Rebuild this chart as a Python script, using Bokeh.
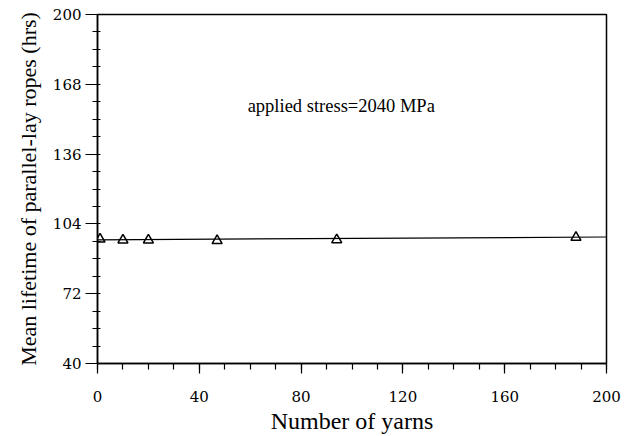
from bokeh.plotting import figure
from bokeh.models import FixedTicker, Range1d, Label
from bokeh.embed import file_html
from bokeh.resources import INLINE

# Mean lifetime of parallel-lay ropes against the number of yarns
yarns = [1, 10, 20, 47, 94, 188]
lifetime_hrs = [97.0, 96.6, 96.6, 96.3, 96.7, 97.8]

# straight-line fit drawn across the full x range
fit_yarns = [0, 200]
fit_lifetime = [96.7, 98.0]

x_ticks = [0, 40, 80, 120, 160, 200]
y_ticks = [40, 72, 104, 136, 168, 200]

p = figure(
    width=624, height=436,
    x_range=Range1d(0, 200), y_range=Range1d(40, 200),
    output_backend="svg", toolbar_location=None,
    min_border_left=97, min_border_right=18,
    min_border_top=14, min_border_bottom=73,
)
p.background_fill_color = "white"
p.border_fill_color = "white"
p.grid.visible = False
p.outline_line_color = "black"
p.outline_line_width = 1.5

p.line(fit_yarns, fit_lifetime, line_color="black", line_width=1.2)
p.scatter(yarns, lifetime_hrs, marker="triangle", size=10,
          line_color="black", line_width=1.5, fill_alpha=0)

# x axis
p.xaxis.ticker = FixedTicker(ticks=x_ticks,
                             minor_ticks=[v for v in range(0, 201, 10)])
p.xaxis.axis_label = "Number of yarns"
p.xaxis.axis_label_text_font = "Liberation Serif"
p.xaxis.axis_label_text_font_style = "normal"
p.xaxis.axis_label_text_font_size = "24px"
p.xaxis.axis_label_standoff = 3
p.xaxis.major_label_text_font = "DejaVu Serif"
p.xaxis.major_label_text_font_size = "15px"
p.xaxis.major_label_standoff = 17
p.xaxis.major_tick_out = 10
p.xaxis.major_tick_in = 0
p.xaxis.minor_tick_out = 6
p.xaxis.minor_tick_in = 0

# y axis
p.yaxis.ticker = FixedTicker(ticks=y_ticks,
                             minor_ticks=[v for v in range(40, 201, 8)])
p.yaxis.axis_label = "Mean lifetime of parallel-lay ropes (hrs)"
p.yaxis.axis_label_text_font = "Liberation Serif"
p.yaxis.axis_label_text_font_style = "normal"
p.yaxis.axis_label_text_font_size = "22px"
p.yaxis.axis_label_standoff = 9
p.yaxis.major_label_text_font = "DejaVu Serif"
p.yaxis.major_label_text_font_size = "15px"
p.yaxis.major_label_standoff = 4
p.yaxis.major_tick_out = 12
p.yaxis.major_tick_in = 0
p.yaxis.minor_tick_out = 5
p.yaxis.minor_tick_in = 3

for ax in (p.xaxis, p.yaxis):
    ax.axis_line_color = "black"
    ax.axis_line_width = 1.5
    ax.major_tick_line_color = "black"
    ax.major_tick_line_width = 1.2
    ax.minor_tick_line_color = "black"
    ax.minor_tick_line_width = 1.2
    ax.major_label_text_color = "black"
    ax.axis_label_text_color = "black"

p.add_layout(Label(x=59, y=158, text="applied stress=2040 MPa",
                   text_font="Liberation Serif", text_font_size="18.5px",
                   text_color="black", text_baseline="middle"))

open("out.html", "w").write(file_html(p, INLINE))
